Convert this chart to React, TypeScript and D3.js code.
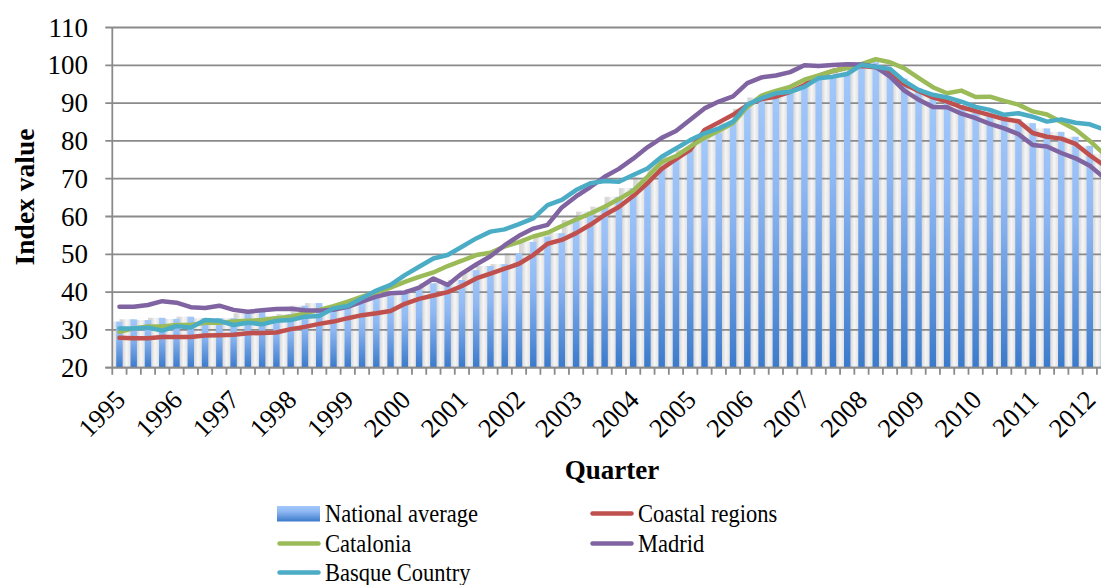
import React from "react";
import * as d3 from "d3";

// ---------- DATA ----------
const years: number[] = [1995, 1996, 1997, 1998, 1999, 2000, 2001, 2002, 2003, 2004, 2005, 2006, 2007, 2008, 2009, 2010, 2011, 2012];
const quarterNames: string[] = ["Q1", "Q2", "Q3", "Q4"];
const categories: string[] = years.flatMap((yr) => quarterNames.map((q) => `${yr} ${q}`)).slice(0, 70);

const nationalAverage: number[] = [
  32.2, 32.8, 32.6, 33.2, 32.9, 33.5, 33.1, 33.1, 33.1, 34.4, 34.9, 33.7, 34.2, 36.4, 37.1, 35.6, 36.2, 37.0, 38.5, 38.9,
  39.7, 40.7, 42.3, 42.5, 43.2, 45.8, 46.9, 47.4, 50.3, 53.3, 54.7, 55.6, 59.1, 61.3, 62.6, 65.2, 67.5, 70.5, 73.2, 75.8,
  77.6, 80.2, 82.0, 84.7, 88.5, 91.5, 92.3, 93.5, 94.5, 96.6, 97.1, 98.3, 100.0, 100.8, 99.0, 96.5, 94.0, 92.0, 90.5, 89.5,
  88.5, 87.5, 86.5, 85.8, 84.7, 83.3, 82.4, 81.1, 78.7, 76.5,
];
const coastalRegions: number[] = [
  27.9, 27.8, 27.8, 28.1, 28.1, 28.1, 28.5, 28.6, 28.7, 29.1, 29.2, 29.3, 30.2, 30.8, 31.6, 32.2, 33.1, 33.9, 34.4, 35.0,
  36.9, 38.2, 39.1, 40.0, 41.6, 43.6, 44.9, 46.2, 47.5, 49.8, 52.8, 53.8, 55.6, 57.8, 60.4, 62.5, 65.4, 68.8, 72.6, 75.2,
  77.6, 82.9, 84.9, 86.9, 89.5, 91.1, 91.7, 93.0, 94.8, 97.2, 98.5, 99.4, 99.8, 99.5, 97.8, 95.0, 93.2, 91.5, 90.4, 88.9,
  87.9, 86.8, 85.8, 85.2, 82.1, 81.1, 80.6, 79.2, 76.2, 73.5,
];
const catalonia: number[] = [
  29.5, 30.4, 30.9, 30.9, 31.3, 31.3, 31.9, 31.9, 32.2, 32.4, 32.6, 33.1, 33.5, 34.4, 35.3, 36.3, 37.5, 38.8, 39.9, 41.2,
  42.7, 44.0, 45.2, 46.9, 48.3, 49.8, 50.4, 52.1, 53.2, 54.7, 55.7, 57.5, 59.2, 60.8, 62.6, 64.6, 66.8, 70.5, 74.4, 76.0,
  78.5, 80.8, 82.7, 84.7, 89.0, 92.0, 93.2, 94.3, 96.2, 97.3, 98.5, 99.3, 100.3, 101.6, 100.8, 99.2, 96.7, 94.2, 92.6, 93.3,
  91.6, 91.7, 90.6, 89.6, 87.8, 87.0, 85.0, 83.0, 80.0, 76.5,
];
const madrid: number[] = [
  36.1, 36.1, 36.6, 37.6, 37.2, 36.0, 35.8, 36.4, 35.3, 34.8, 35.2, 35.5, 35.6, 35.2, 35.1, 35.3, 36.1, 37.5, 38.8, 39.7,
  39.9, 41.2, 43.6, 41.9, 44.9, 47.3, 49.5, 52.4, 54.9, 56.8, 57.8, 62.4, 65.3, 67.8, 70.5, 72.6, 75.3, 78.3, 80.8, 82.6,
  85.6, 88.6, 90.4, 91.8, 95.3, 96.8, 97.3, 98.2, 100.0, 99.8, 100.1, 100.3, 100.2, 99.6, 97.0, 93.3, 90.9, 89.0, 88.9, 87.2,
  86.0, 84.5, 83.3, 81.8, 78.9, 78.5, 76.8, 75.4, 73.4, 70.3,
];
const basqueCountry: number[] = [
  30.4, 30.4, 30.6, 29.8, 31.0, 30.6, 32.6, 32.4, 31.3, 31.9, 31.5, 32.4, 32.6, 33.5, 33.7, 35.7, 36.3, 38.4, 40.4, 41.9,
  44.5, 46.7, 48.9, 49.8, 52.0, 54.2, 56.0, 56.6, 58.0, 59.5, 63.0, 64.4, 67.0, 68.8, 69.4, 69.2, 71.0, 72.7, 75.8, 78.0,
  80.2, 82.0, 83.3, 85.1, 89.6, 91.3, 92.6, 93.0, 94.3, 96.6, 97.0, 97.7, 100.1, 99.6, 99.0, 95.8, 93.5, 92.2, 91.5, 90.4,
  89.0, 88.2, 86.9, 87.3, 86.4, 85.1, 85.7, 84.8, 84.4, 83.0,
];
const yTickValues: number[] = [20, 30, 40, 50, 60, 70, 80, 90, 100, 110];

const lineSeries = [
  { name: "Coastal regions", values: coastalRegions, color: "#C0504D" },
  { name: "Catalonia", values: catalonia, color: "#9BBB59" },
  { name: "Madrid", values: madrid, color: "#8064A2" },
  { name: "Basque Country", values: basqueCountry, color: "#4BACC6" },
];

// ---------- LAYOUT ----------
const W = 1101;
const H = 585;
const plotLeft = 112.3;
const plotTop = 27.5;
const plotBottom = 367.7;
const bandW = 14.27;
const FONT = "'Liberation Serif', 'Times New Roman', serif";
const gridColor = "#8a8a8a";

export default function App() {
  const x = d3
    .scaleBand<string>()
    .domain(categories)
    .range([plotLeft, plotLeft + bandW * categories.length])
    .paddingInner(0)
    .paddingOuter(0);
  const y = d3.scaleLinear().domain([20, 110]).range([plotBottom, plotTop]);
  const bw = x.bandwidth();
  const cx = (i: number) => (x(categories[i]) as number) + bw / 2;
  const barW = bw * 0.45;

  const line = d3
    .line<number>()
    .x((_, i) => cx(i))
    .y((d) => y(d));

  const legendItems = [
    { name: "National average", kind: "bar", color: "", col: 0, row: 0 },
    { name: "Coastal regions", kind: "line", color: "#C0504D", col: 1, row: 0 },
    { name: "Catalonia", kind: "line", color: "#9BBB59", col: 0, row: 1 },
    { name: "Madrid", kind: "line", color: "#8064A2", col: 1, row: 1 },
    { name: "Basque Country", kind: "line", color: "#4BACC6", col: 0, row: 2 },
  ];
  const legendColX = [277, 590];
  const legendRowY = [513.5, 543.5, 572.5];

  return (
    <svg
      width={W}
      height={H}
      viewBox={`0 0 ${W} ${H}`}
      style={{ position: "absolute", left: 0, top: 0, background: "#ffffff" }}
    >
      <defs>
        <linearGradient id="barGrad" x1="0" y1="0" x2="0" y2="1">
          <stop offset="0" stopColor="#a2c8fb" />
          <stop offset="0.35" stopColor="#8fb8f3" />
          <stop offset="1" stopColor="#3b7acb" />
        </linearGradient>
        <linearGradient id="gapGrad" x1="0" y1="0" x2="1" y2="0">
          <stop offset="0" stopColor="#d6d6d6" />
          <stop offset="0.25" stopColor="#d9d9d9" />
          <stop offset="0.5" stopColor="#f6f6f6" />
          <stop offset="0.75" stopColor="#e3e3e3" />
          <stop offset="1" stopColor="#e3e3e3" />
        </linearGradient>
        <clipPath id="plotClip">
          <rect x={plotLeft} y={0} width={W - plotLeft} height={plotBottom} />
        </clipPath>
      </defs>

      <rect x={0} y={0} width={W} height={H} fill="#ffffff" />

      {/* gray gap columns */}
      <g clipPath="url(#plotClip)">
        {nationalAverage.map((v, i) => (
          <rect
            key={`g${i}`}
            x={cx(i) - bw}
            y={y(v)}
            width={bw}
            height={plotBottom - y(v)}
            fill="url(#gapGrad)"
          />
        ))}
      </g>

      {/* gridlines */}
      {yTickValues.map((t) => (
        <line
          key={`gl${t}`}
          x1={plotLeft - 7}
          x2={W}
          y1={y(t)}
          y2={y(t)}
          stroke={gridColor}
          strokeWidth={1.8}
        />
      ))}

      {/* bars */}
      {nationalAverage.map((v, i) => (
        <rect
          key={`b${i}`}
          x={cx(i) - barW / 2}
          y={y(v)}
          width={barW}
          height={plotBottom - y(v)}
          fill="url(#barGrad)"
        />
      ))}

      {/* axes */}
      <line x1={plotLeft} x2={plotLeft} y1={plotTop} y2={plotBottom + 7} stroke={gridColor} strokeWidth={1.8} />
      <line x1={plotLeft - 7} x2={W} y1={plotBottom} y2={plotBottom} stroke={gridColor} strokeWidth={1.8} />
      {categories.map((c, i) => (
        <line
          key={`t${i}`}
          x1={(x(c) as number) + bw}
          x2={(x(c) as number) + bw}
          y1={plotBottom}
          y2={plotBottom + 7}
          stroke={gridColor}
          strokeWidth={1.8}
        />
      ))}

      {/* lines */}
      {lineSeries.map((s) => (
        <path
          key={s.name}
          d={line(s.values) || ""}
          fill="none"
          stroke={s.color}
          strokeWidth={4.5}
          strokeLinejoin="round"
          strokeLinecap="round"
        />
      ))}

      {/* y tick labels */}
      {yTickValues.map((t) => (
        <text
          key={`yl${t}`}
          x={88}
          y={y(t)}
          textAnchor="end"
          dominantBaseline="central"
          fontFamily={FONT}
          fontSize={27}
          fill="#000"
        >
          {t}
        </text>
      ))}

      {/* x tick labels */}
      {years.map((yr, k) => {
        const px = cx(k * 4) + 1;
        const py = 395;
        return (
          <text
            key={`xl${yr}`}
            transform={`translate(${px},${py}) rotate(-45)`}
            textAnchor="end"
            dominantBaseline="central"
            fontFamily={FONT}
            fontSize={26.5}
            fill="#000"
          >
            {yr}
          </text>
        );
      })}

      {/* axis titles */}
      <text
        transform={`translate(24,197) rotate(-90)`}
        textAnchor="middle"
        dominantBaseline="central"
        fontFamily={FONT}
        fontWeight="bold"
        fontSize={27.5}
        fill="#000"
      >
        Index value
      </text>
      <text
        x={612}
        y={479}
        textAnchor="middle"
        fontFamily={FONT}
        fontWeight="bold"
        fontSize={27}
        fill="#000"
      >
        Quarter
      </text>

      {/* legend */}
      {legendItems.map((it) => {
        const lx = legendColX[it.col];
        const ly = legendRowY[it.row];
        return (
          <g key={it.name}>
            {it.kind === "bar" ? (
              <rect x={lx} y={ly - 7.5} width={43} height={15.5} fill="url(#barGrad)" />
            ) : (
              <line
                x1={lx + 2.5}
                x2={lx + 41.5}
                y1={ly}
                y2={ly}
                stroke={it.color}
                strokeWidth={4.5}
                strokeLinecap="round"
              />
            )}
            <text
              transform={`translate(${lx + 48},${ly + 8}) scale(0.9,1)`}
              fontFamily={FONT}
              fontSize={25}
              fill="#000"
            >
              {it.name}
            </text>
          </g>
        );
      })}
    </svg>
  );
}
